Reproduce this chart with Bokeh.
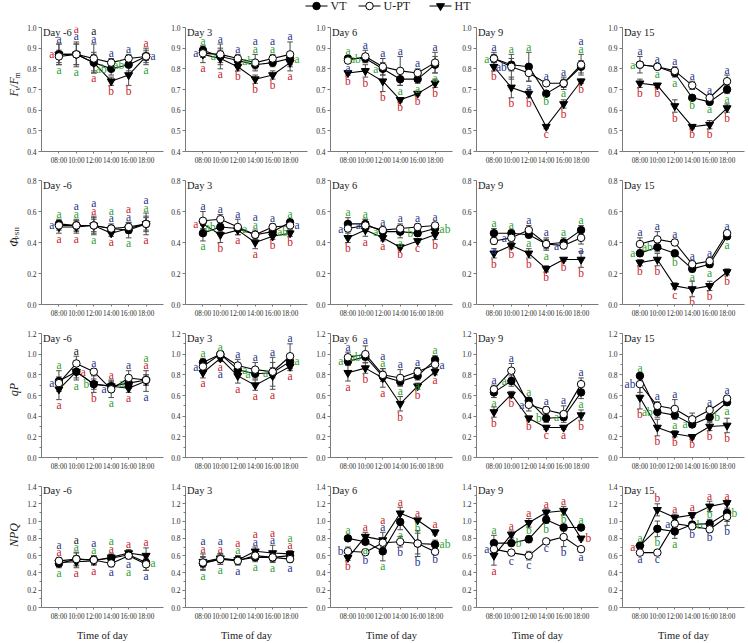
import numpy as np
from bokeh.plotting import figure
from bokeh.layouts import column, row
from bokeh.models import FixedTicker, PrintfTickFormatter, Label, ColumnDataSource
from bokeh.embed import file_html
from bokeh.resources import INLINE
from bokeh.core.properties import value

# ---------------------------------------------------------------- data
TIMES = [8, 10, 12, 14, 16, 18]
TIME_LABELS = ["08:00", "10:00", "12:00", "14:00", "16:00", "18:00"]
DAYS = ["Day -6", "Day 3", "Day 6", "Day 9", "Day 15"]
SERIES = ["VT", "U-PT", "HT"]

# Fv/Fm (one list per day)
FVFM_VT = [[0.87, 0.87, 0.83, 0.80, 0.82, 0.86],
           [0.89, 0.86, 0.84, 0.82, 0.83, 0.85],
           [0.85, 0.85, 0.80, 0.75, 0.75, 0.82],
           [0.85, 0.82, 0.81, 0.68, 0.73, 0.81],
           [0.82, 0.81, 0.78, 0.66, 0.64, 0.70]]
FVFM_UPT = [[0.86, 0.87, 0.85, 0.83, 0.85, 0.86],
            [0.875, 0.87, 0.85, 0.83, 0.85, 0.87],
            [0.84, 0.86, 0.81, 0.79, 0.78, 0.83],
            [0.85, 0.81, 0.78, 0.73, 0.73, 0.82],
            [0.82, 0.81, 0.79, 0.72, 0.66, 0.74]]
FVFM_HT = [[0.87, 0.87, 0.83, 0.74, 0.77, 0.86],
           [0.87, 0.85, 0.81, 0.75, 0.77, 0.83],
           [0.78, 0.79, 0.74, 0.65, 0.68, 0.73],
           [0.81, 0.71, 0.68, 0.52, 0.63, 0.74],
           [0.73, 0.72, 0.62, 0.52, 0.53, 0.61]]
FVFM_VT_SE = [[0.05, 0.05, 0.04, 0.03, 0.03, 0.02],
              [0.02, 0.03, 0.02, 0.02, 0.02, 0.03],
              [0.01, 0.02, 0.03, 0.03, 0.02, 0.04],
              [0.02, 0.03, 0.07, 0.01, 0.02, 0.03],
              [0.01, 0.01, 0.02, 0.01, 0.01, 0.02]]
FVFM_UPT_SE = [[0.03, 0.06, 0.07, 0.02, 0.02, 0.03],
               [0.02, 0.05, 0.02, 0.04, 0.02, 0.06],
               [0.01, 0.03, 0.04, 0.07, 0.02, 0.05],
               [0.03, 0.06, 0.04, 0.01, 0.03, 0.05],
               [0.04, 0.01, 0.02, 0.02, 0.01, 0.03]]
FVFM_HT_SE = [[0.05, 0.05, 0.05, 0.02, 0.05, 0.04],
              [0.04, 0.05, 0.02, 0.02, 0.02, 0.04],
              [0.01, 0.03, 0.05, 0.01, 0.01, 0.02],
              [0.02, 0.05, 0.02, 0.01, 0.02, 0.01],
              [0.02, 0.01, 0.03, 0.01, 0.02, 0.02]]

# Phi PSII
PSII_VT = [[0.52, 0.51, 0.51, 0.49, 0.48, 0.52],
           [0.46, 0.50, 0.49, 0.45, 0.47, 0.53],
           [0.52, 0.52, 0.47, 0.47, 0.46, 0.49],
           [0.46, 0.46, 0.45, 0.39, 0.40, 0.48],
           [0.33, 0.37, 0.33, 0.23, 0.26, 0.44]]
PSII_UPT = [[0.51, 0.51, 0.51, 0.49, 0.50, 0.52],
            [0.54, 0.55, 0.50, 0.45, 0.50, 0.51],
            [0.49, 0.51, 0.48, 0.49, 0.50, 0.51],
            [0.41, 0.43, 0.48, 0.39, 0.38, 0.43],
            [0.39, 0.42, 0.40, 0.26, 0.28, 0.46]]
PSII_HT = [[0.50, 0.50, 0.51, 0.46, 0.49, 0.52],
           [0.52, 0.45, 0.48, 0.40, 0.44, 0.46],
           [0.43, 0.48, 0.43, 0.37, 0.41, 0.45],
           [0.33, 0.38, 0.33, 0.23, 0.29, 0.29],
           [0.27, 0.29, 0.12, 0.10, 0.12, 0.21]]
PSII_VT_SE = [[0.03, 0.03, 0.04, 0.02, 0.05, 0.04],
              [0.05, 0.03, 0.02, 0.02, 0.02, 0.02],
              [0.04, 0.03, 0.02, 0.04, 0.02, 0.02],
              [0.03, 0.02, 0.02, 0.04, 0.03, 0.03],
              [0.02, 0.03, 0.02, 0.02, 0.02, 0.02]]
PSII_UPT_SE = [[0.03, 0.04, 0.05, 0.03, 0.03, 0.07],
               [0.06, 0.03, 0.05, 0.03, 0.02, 0.03],
               [0.02, 0.04, 0.02, 0.03, 0.02, 0.02],
               [0.02, 0.02, 0.03, 0.03, 0.02, 0.04],
               [0.04, 0.05, 0.02, 0.02, 0.02, 0.01]]
PSII_HT_SE = [[0.04, 0.04, 0.06, 0.02, 0.03, 0.05],
              [0.03, 0.05, 0.03, 0.04, 0.02, 0.02],
              [0.03, 0.04, 0.02, 0.01, 0.01, 0.03],
              [0.03, 0.02, 0.03, 0.02, 0.01, 0.05],
              [0.02, 0.04, 0.02, 0.05, 0.03, 0.02]]

# qP
QP_VT = [[0.74, 0.83, 0.71, 0.69, 0.72, 0.75],
         [0.92, 1.00, 0.85, 0.81, 0.82, 0.93],
         [0.93, 0.975, 0.785, 0.735, 0.79, 0.945],
         [0.63, 0.74, 0.55, 0.38, 0.39, 0.63],
         [0.79, 0.44, 0.41, 0.32, 0.39, 0.535]]
QP_UPT = [[0.72, 0.91, 0.83, 0.66, 0.77, 0.75],
          [0.88, 1.00, 0.89, 0.85, 0.83, 0.98],
          [0.97, 1.00, 0.80, 0.77, 0.83, 0.90],
          [0.66, 0.84, 0.51, 0.46, 0.42, 0.71],
          [0.71, 0.50, 0.47, 0.37, 0.46, 0.57]]
QP_HT = [[0.66, 0.83, 0.71, 0.69, 0.67, 0.74],
         [0.82, 0.96, 0.79, 0.70, 0.79, 0.88],
         [0.82, 0.865, 0.77, 0.52, 0.69, 0.83],
         [0.44, 0.61, 0.38, 0.29, 0.29, 0.41],
         [0.58, 0.29, 0.23, 0.20, 0.30, 0.31]]
QP_VT_SE = [[0.10, 0.08, 0.05, 0.04, 0.05, 0.05],
            [0.04, 0.02, 0.05, 0.05, 0.05, 0.03],
            [0.04, 0.03, 0.05, 0.04, 0.04, 0.04],
            [0.05, 0.05, 0.03, 0.04, 0.03, 0.06],
            [0.02, 0.05, 0.04, 0.03, 0.04, 0.03]]
QP_UPT_SE = [[0.06, 0.07, 0.03, 0.08, 0.07, 0.05],
             [0.04, 0.02, 0.06, 0.07, 0.14, 0.12],
             [0.05, 0.08, 0.06, 0.08, 0.04, 0.04],
             [0.04, 0.07, 0.06, 0.03, 0.08, 0.06],
             [0.08, 0.04, 0.09, 0.06, 0.02, 0.03]]
QP_HT_SE = [[0.10, 0.06, 0.08, 0.06, 0.04, 0.10],
            [0.05, 0.03, 0.07, 0.05, 0.13, 0.04],
            [0.08, 0.05, 0.09, 0.07, 0.03, 0.03],
            [0.05, 0.03, 0.02, 0.02, 0.02, 0.05],
            [0.11, 0.08, 0.03, 0.02, 0.04, 0.07]]

# NPQ
NPQ_VT = [[0.51, 0.56, 0.55, 0.57, 0.61, 0.52],
          [0.51, 0.56, 0.55, 0.58, 0.58, 0.60],
          [0.80, 0.76, 0.65, 0.99, 0.74, 0.73],
          [0.745, 0.745, 0.79, 1.015, 0.925, 0.925],
          [0.715, 0.91, 0.88, 0.96, 0.97, 1.095]]
NPQ_UPT = [[0.54, 0.56, 0.55, 0.51, 0.60, 0.50],
           [0.52, 0.56, 0.54, 0.60, 0.58, 0.56],
           [0.65, 0.64, 0.75, 0.76, 0.74, 0.645],
           [0.675, 0.635, 0.60, 0.765, 0.815, 0.675],
           [0.635, 0.635, 0.97, 0.94, 0.905, 1.05]]
NPQ_HT = [[0.52, 0.53, 0.54, 0.58, 0.63, 0.60],
          [0.53, 0.57, 0.55, 0.65, 0.63, 0.62],
          [0.575, 0.82, 0.78, 1.09, 1.01, 0.87],
          [0.60, 0.845, 0.98, 1.10, 1.12, 0.80],
          [0.695, 1.13, 1.04, 1.07, 1.17, 1.21]]
NPQ_VT_SE = [[0.05, 0.07, 0.05, 0.04, 0.04, 0.09],
             [0.08, 0.06, 0.05, 0.05, 0.05, 0.04],
             [0.03, 0.03, 0.11, 0.09, 0.12, 0.05],
             [0.09, 0.03, 0.04, 0.04, 0.04, 0.02],
             [0.03, 0.09, 0.08, 0.03, 0.05, 0.10]]
NPQ_UPT_SE = [[0.04, 0.08, 0.05, 0.04, 0.04, 0.07],
              [0.06, 0.06, 0.05, 0.05, 0.06, 0.04],
              [0.05, 0.03, 0.05, 0.06, 0.15, 0.02],
              [0.04, 0.03, 0.05, 0.02, 0.11, 0.03],
              [0.01, 0.01, 0.04, 0.03, 0.03, 0.10]]
NPQ_HT_SE = [[0.05, 0.07, 0.05, 0.04, 0.04, 0.09],
             [0.09, 0.05, 0.05, 0.05, 0.09, 0.04],
             [0.03, 0.05, 0.09, 0.07, 0.02, 0.03],
             [0.11, 0.04, 0.05, 0.04, 0.05, 0.02],
             [0.03, 0.07, 0.04, 0.03, 0.06, 0.02]]

# Significance letters: (time index, treatment, placement, letter).
# Placement: T = stacked above all bars, B = stacked below all bars,
# L / R = beside the treatment's point, u / d = just above / below its own bar.
# Treatment "K" marks a letter printed in black.
FVFM_LETTERS = [
    [(0, "UPT", "T", "a"), (0, "HT", "L", "a"), (0, "VT", "B", "a"),
     (1, "UPT", "T", "a"), (1, "HT", "T", "a"), (1, "VT", "B", "a"),
     (2, "UPT", "T", "a"), (2, "K", "T", "a"), (2, "HT", "B", "a"),
     (3, "UPT", "T", "a"), (3, "VT", "L", "ab"), (3, "HT", "B", "b"),
     (4, "UPT", "T", "a"), (4, "VT", "L", "ab"), (4, "HT", "B", "b"),
     (5, "HT", "T", "a"), (5, "UPT", "R", "a"), (5, "VT", "B", "a")],
    [(0, "VT", "T", "a"), (0, "UPT", "L", "a"), (0, "HT", "B", "a"),
     (1, "UPT", "T", "a"), (1, "VT", "L", "a"), (1, "HT", "B", "a"),
     (2, "UPT", "T", "a"), (2, "VT", "R", "ab"), (2, "HT", "B", "b"),
     (3, "VT", "T", "a"), (3, "UPT", "T", "a"), (3, "HT", "B", "b"),
     (4, "VT", "T", "a"), (4, "UPT", "T", "a"), (4, "HT", "B", "b"),
     (5, "UPT", "T", "a"), (5, "VT", "R", "a"), (5, "HT", "B", "a")],
    [(0, "VT", "T", "a"), (0, "UPT", "d", "a"), (0, "HT", "B", "b"),
     (1, "UPT", "T", "a"), (1, "VT", "L", "ab"), (1, "HT", "B", "b"),
     (2, "UPT", "T", "a"), (2, "VT", "L", "a"), (2, "HT", "B", "b"),
     (3, "UPT", "T", "a"), (3, "VT", "d", "a"), (3, "HT", "B", "b"),
     (4, "UPT", "T", "a"), (4, "VT", "d", "a"), (4, "HT", "B", "b"),
     (5, "UPT", "T", "a"), (5, "VT", "d", "a"), (5, "HT", "B", "b")],
    [(0, "UPT", "T", "a"), (0, "VT", "L", "a"), (0, "HT", "B", "b"),
     (1, "VT", "T", "a"), (1, "UPT", "L", "ab"), (1, "HT", "B", "b"),
     (2, "VT", "T", "a"), (2, "UPT", "d", "a"), (2, "HT", "B", "b"),
     (3, "UPT", "T", "a"), (3, "VT", "d", "b"), (3, "HT", "B", "c"),
     (4, "UPT", "T", "a"), (4, "VT", "d", "a"), (4, "HT", "B", "b"),
     (5, "VT", "T", "a"), (5, "UPT", "T", "a"), (5, "HT", "d", "b")],
    [(0, "UPT", "T", "a"), (0, "VT", "L", "a"), (0, "HT", "B", "b"),
     (1, "UPT", "T", "a"), (1, "VT", "d", "a"), (1, "HT", "B", "b"),
     (2, "UPT", "T", "a"), (2, "VT", "d", "a"), (2, "HT", "B", "b"),
     (3, "UPT", "T", "a"), (3, "VT", "d", "b"), (3, "HT", "B", "b"),
     (4, "UPT", "T", "a"), (4, "VT", "d", "a"), (4, "HT", "B", "b"),
     (5, "UPT", "T", "a"), (5, "VT", "d", "a"), (5, "HT", "B", "b")],
]
PSII_LETTERS = [
    [(0, "VT", "T", "a"), (0, "UPT", "L", "a"), (0, "HT", "B", "a"),
     (1, "VT", "T", "a"), (1, "UPT", "T", "a"), (1, "HT", "B", "a"),
     (2, "HT", "T", "a"), (2, "UPT", "T", "a"), (2, "VT", "B", "a"),
     (3, "UPT", "T", "a"), (3, "VT", "T", "a"), (3, "HT", "B", "a"),
     (4, "UPT", "T", "a"), (4, "HT", "T", "a"), (4, "VT", "B", "a"),
     (5, "VT", "T", "a"), (5, "UPT", "T", "a"), (5, "HT", "B", "a")],
    [(0, "UPT", "T", "a"), (0, "HT", "L", "a"), (0, "VT", "B", "a"),
     (1, "UPT", "T", "a"), (1, "VT", "L", "ab"), (1, "HT", "B", "b"),
     (2, "UPT", "T", "a"), (2, "VT", "R", "a"), (2, "HT", "B", "a"),
     (3, "VT", "T", "a"), (3, "UPT", "T", "a"), (3, "HT", "B", "a"),
     (4, "UPT", "T", "a"), (4, "VT", "R", "ab"), (4, "HT", "B", "b"),
     (5, "VT", "T", "a"), (5, "UPT", "R", "a"), (5, "HT", "B", "b")],
    [(0, "VT", "T", "a"), (0, "UPT", "L", "a"), (0, "HT", "B", "b"),
     (1, "VT", "T", "a"), (1, "UPT", "L", "a"), (1, "HT", "B", "a"),
     (2, "UPT", "T", "a"), (2, "VT", "L", "a"), (2, "HT", "B", "a"),
     (3, "UPT", "T", "a"), (3, "VT", "d", "a"), (3, "HT", "B", "b"),
     (4, "UPT", "T", "a"), (4, "VT", "L", "b"), (4, "HT", "B", "c"),
     (5, "UPT", "T", "a"), (5, "VT", "R", "ab"), (5, "HT", "B", "b")],
    [(0, "VT", "T", "a"), (0, "UPT", "d", "a"), (0, "HT", "B", "b"),
     (1, "VT", "T", "a"), (1, "UPT", "L", "a"), (1, "HT", "B", "b"),
     (2, "UPT", "T", "a"), (2, "VT", "d", "a"), (2, "HT", "B", "b"),
     (3, "UPT", "T", "a"), (3, "VT", "d", "a"), (3, "HT", "B", "b"),
     (4, "VT", "T", "a"), (4, "UPT", "L", "a"), (4, "HT", "B", "b"),
     (5, "VT", "T", "a"), (5, "UPT", "d", "a"), (5, "HT", "B", "b")],
    [(0, "UPT", "T", "a"), (0, "VT", "L", "a"), (0, "HT", "B", "b"),
     (1, "UPT", "T", "a"), (1, "VT", "L", "ab"), (1, "HT", "B", "b"),
     (2, "UPT", "T", "a"), (2, "VT", "d", "b"), (2, "HT", "B", "c"),
     (3, "UPT", "T", "a"), (3, "VT", "d", "a"), (3, "HT", "B", "b"),
     (4, "UPT", "T", "a"), (4, "VT", "d", "a"), (4, "HT", "B", "b"),
     (5, "UPT", "T", "a"), (5, "VT", "d", "a"), (5, "HT", "B", "b")],
]
QP_LETTERS = [
    [(0, "VT", "T", "a"), (0, "UPT", "L", "a"), (0, "HT", "B", "a"),
     (1, "K", "T", "a"), (1, "HT", "R", "a"), (1, "VT", "B", "a"),
     (2, "UPT", "T", "a"), (2, "VT", "L", "b"), (2, "HT", "B", "b"),
     (3, "HT", "T", "a"), (3, "UPT", "L", "a"), (3, "VT", "B", "a"),
     (4, "UPT", "T", "a"), (4, "VT", "L", "a"), (4, "HT", "B", "a"),
     (5, "HT", "T", "a"), (5, "VT", "T", "a"), (5, "UPT", "B", "a")],
    [(0, "VT", "T", "a"), (0, "UPT", "L", "a"), (0, "HT", "B", "a"),
     (1, "VT", "T", "a"), (1, "HT", "B", "a"), (1, "UPT", "B", "a"),
     (2, "UPT", "T", "a"), (2, "VT", "R", "a"), (2, "HT", "B", "a"),
     (3, "UPT", "T", "a"), (3, "VT", "L", "a"), (3, "HT", "B", "a"),
     (4, "UPT", "T", "a"), (4, "VT", "L", "a"), (4, "HT", "B", "a"),
     (5, "UPT", "T", "a"), (5, "VT", "R", "a"), (5, "HT", "B", "a")],
    [(0, "UPT", "T", "a"), (0, "VT", "L", "a"), (0, "HT", "B", "a"),
     (1, "UPT", "T", "a"), (1, "VT", "L", "ab"), (1, "HT", "B", "b"),
     (2, "VT", "T", "a"), (2, "UPT", "T", "a"), (2, "HT", "B", "a"),
     (3, "UPT", "T", "a"), (3, "VT", "d", "a"), (3, "HT", "B", "b"),
     (4, "UPT", "T", "a"), (4, "VT", "d", "a"), (4, "HT", "B", "b"),
     (5, "VT", "T", "a"), (5, "UPT", "R", "a"), (5, "HT", "B", "a")],
    [(0, "UPT", "T", "a"), (0, "VT", "d", "a"), (0, "HT", "B", "b"),
     (1, "UPT", "T", "a"), (1, "VT", "L", "a"), (1, "HT", "B", "b"),
     (2, "VT", "T", "a"), (2, "UPT", "L", "a"), (2, "HT", "B", "b"),
     (3, "UPT", "T", "a"), (3, "VT", "L", "b"), (3, "HT", "B", "c"),
     (4, "UPT", "T", "a"), (4, "VT", "L", "a"), (4, "HT", "B", "a"),
     (5, "UPT", "T", "a"), (5, "VT", "d", "a"), (5, "HT", "B", "b")],
    [(0, "VT", "T", "a"), (0, "UPT", "L", "ab"), (0, "HT", "B", "b"),
     (1, "UPT", "T", "a"), (1, "VT", "L", "ab"), (1, "HT", "B", "b"),
     (2, "UPT", "T", "a"), (2, "VT", "d", "a"), (2, "HT", "B", "b"),
     (3, "VT", "L", "a"), (3, "HT", "B", "b"),
     (4, "UPT", "T", "a"), (4, "VT", "R", "b"), (4, "HT", "B", "b"),
     (5, "UPT", "T", "a"), (5, "VT", "d", "a"), (5, "HT", "B", "b")],
]
NPQ_LETTERS = [
    [(0, "HT", "T", "a"), (0, "UPT", "T", "a"), (0, "VT", "B", "a"),
     (1, "VT", "T", "a"), (1, "K", "T", "a"), (1, "HT", "B", "a"),
     (2, "VT", "T", "a"), (2, "UPT", "T", "a"), (2, "HT", "B", "a"),
     (3, "HT", "T", "a"), (3, "VT", "T", "a"), (3, "UPT", "B", "a"),
     (4, "HT", "T", "a"), (4, "UPT", "B", "a"), (4, "VT", "B", "a"),
     (5, "HT", "T", "a"), (5, "VT", "R", "a"), (5, "UPT", "B", "a")],
    [(0, "HT", "T", "a"), (0, "UPT", "T", "a"), (0, "VT", "B", "a"),
     (1, "HT", "T", "a"), (1, "UPT", "T", "a"), (1, "VT", "B", "a"),
     (2, "VT", "T", "a"), (2, "HT", "T", "a"), (2, "UPT", "B", "a"),
     (3, "UPT", "T", "a"), (3, "HT", "T", "a"), (3, "VT", "B", "a"),
     (4, "UPT", "T", "a"), (4, "HT", "T", "a"), (4, "VT", "B", "a"),
     (5, "HT", "T", "a"), (5, "VT", "T", "a"), (5, "UPT", "B", "a")],
    [(0, "VT", "T", "a"), (0, "UPT", "L", "b"), (0, "HT", "B", "b"),
     (1, "HT", "T", "a"), (1, "VT", "d", "a"), (1, "UPT", "B", "b"),
     (2, "UPT", "T", "a"), (2, "HT", "T", "a"), (2, "VT", "B", "a"),
     (3, "HT", "T", "a"), (3, "VT", "d", "a"), (3, "UPT", "B", "b"),
     (4, "HT", "T", "a"), (4, "VT", "u", "b"), (4, "UPT", "B", "b"),
     (5, "HT", "T", "a"), (5, "VT", "R", "ab"), (5, "UPT", "B", "b")],
    [(0, "VT", "T", "a"), (0, "UPT", "L", "a"), (0, "HT", "B", "a"),
     (1, "HT", "T", "a"), (1, "VT", "R", "b"), (1, "UPT", "B", "c"),
     (2, "HT", "T", "a"), (2, "VT", "u", "b"), (2, "UPT", "B", "c"),
     (3, "HT", "T", "a"), (3, "VT", "d", "b"), (3, "UPT", "B", "c"),
     (4, "HT", "T", "a"), (4, "VT", "u", "b"), (4, "UPT", "B", "b"),
     (5, "VT", "T", "a"), (5, "HT", "R", "b"), (5, "UPT", "B", "a")],
    [(0, "VT", "T", "a"), (0, "HT", "L", "a"), (0, "UPT", "B", "a"),
     (1, "HT", "T", "b"), (1, "VT", "d", "b"), (1, "UPT", "B", "c"),
     (2, "HT", "T", "a"), (2, "UPT", "L", "a"), (2, "VT", "B", "a"),
     (3, "HT", "T", "a"), (3, "VT", "R", "b"), (3, "UPT", "B", "b"),
     (4, "HT", "T", "a"), (4, "VT", "u", "b"), (4, "UPT", "B", "b"),
     (5, "HT", "T", "a"), (5, "VT", "R", "b"), (5, "UPT", "B", "b")],
]

# ---------------------------------------------------------------- styling
FONT = "Liberation Serif"
AXIS_GREY = "#7a7a7a"
TEXT_DARK = "#1a1a1a"
BAR_GREY = "#4d4d4d"
LETTER_COLORS = {"VT": "#2f9e2f", "UPT": "#2a3588", "HT": "#c8232a", "K": "#222222"}

FRAME_W, FRAME_H = 122, 124
LABEL_W = 22                       # strip holding the rotated row titles
COL_W = [165 - LABEL_W, 145, 146, 146, 146]
COL_L = [41 - LABEL_W, 20, 20, 20, 20]
ROW_H = [153, 153, 153, 166]
TOP = 9
X_LO, X_HI = 6, 20

ROWS = [
    dict(lo=0.4, hi=1.0, ticks=[0.4, 0.5, 0.6, 0.7, 0.8, 0.9, 1.0], minor=[],
         vt=FVFM_VT, upt=FVFM_UPT, ht=FVFM_HT,
         vt_se=FVFM_VT_SE, upt_se=FVFM_UPT_SE, ht_se=FVFM_HT_SE, letters=FVFM_LETTERS,
         ylabel=[("F", 12, "italic", 0, 7.3), ("v", 8, "italic", 1, 3.8), ("/", 12, "normal", 0, 3.6),
                 ("F", 12, "italic", 0, 7.3), ("m", 8, "normal", 1, 6.0)]),
    dict(lo=0.0, hi=0.8, ticks=[0.0, 0.2, 0.4, 0.6, 0.8], minor=[],
         vt=PSII_VT, upt=PSII_UPT, ht=PSII_HT,
         vt_se=PSII_VT_SE, upt_se=PSII_UPT_SE, ht_se=PSII_HT_SE, letters=PSII_LETTERS,
         ylabel=[("\u03a6", 12, "italic", 0, 9.2), ("PSII", 7, "normal", 1, 12.5)]),
    dict(lo=0.0, hi=1.2, ticks=[0.0, 0.2, 0.4, 0.6, 0.8, 1.0, 1.2],
         minor=[0.1, 0.3, 0.5, 0.7, 0.9, 1.1],
         vt=QP_VT, upt=QP_UPT, ht=QP_HT,
         vt_se=QP_VT_SE, upt_se=QP_UPT_SE, ht_se=QP_HT_SE, letters=QP_LETTERS,
         ylabel=[("qP", 12, "italic", 0, 13.0)]),
    dict(lo=0.0, hi=1.4, ticks=[0.0, 0.2, 0.4, 0.6, 0.8, 1.0, 1.2, 1.4],
         minor=[0.1, 0.3, 0.5, 0.7, 0.9, 1.1, 1.3],
         vt=NPQ_VT, upt=NPQ_UPT, ht=NPQ_HT,
         vt_se=NPQ_VT_SE, upt_se=NPQ_UPT_SE, ht_se=NPQ_HT_SE, letters=NPQ_LETTERS,
         ylabel=[("NPQ", 12, "italic", 0, 24.0)]),
]


def make_row_title(r):
    """Narrow strip with the rotated quantity name (subscripts set lower)."""
    h = ROW_H[r]
    f = figure(width=LABEL_W, height=h, x_range=(0, LABEL_W), y_range=(0, h),
               output_backend="svg", toolbar_location=None,
               x_axis_location=None, y_axis_location=None, min_border=0)
    f.outline_line_color = None
    f.grid.visible = False
    pieces = ROWS[r]["ylabel"]
    total = sum(pc[4] for pc in pieces)
    mid = (h - TOP - FRAME_H) + FRAME_H / 2
    cursor = mid - total / 2
    for txt, size, style, sub, adv in pieces:
        f.text(x=[13 + 3.5 * sub], y=[cursor], text=[txt], angle=np.pi / 2,
               text_font=value(FONT), text_font_size=f"{size}px",
               text_font_style=style, text_color=TEXT_DARK,
               text_align="left", text_baseline="middle")
        cursor += adv
    return f


def make_panel(r, c):
    spec = ROWS[r]
    lo, hi = spec["lo"], spec["hi"]
    w, h = COL_W[c], ROW_H[r]
    px = (X_HI - X_LO) / FRAME_W      # data units per pixel, x
    py = (hi - lo) / FRAME_H          # data units per pixel, y

    p = figure(width=w, height=h, x_range=(X_LO, X_HI), y_range=(lo, hi),
               output_backend="svg", toolbar_location=None,
               min_border_left=COL_L[c], min_border_right=w - COL_L[c] - FRAME_W,
               min_border_top=TOP, min_border_bottom=h - TOP - FRAME_H)
    p.outline_line_color = None
    p.grid.visible = False

    # axes
    p.xaxis.ticker = FixedTicker(ticks=TIMES)
    p.xaxis.major_label_overrides = {t: lab for t, lab in zip(TIMES, TIME_LABELS)}
    p.yaxis.ticker = FixedTicker(ticks=spec["ticks"], minor_ticks=spec["minor"])
    p.yaxis.formatter = PrintfTickFormatter(format="%.1f")
    for ax in (p.xaxis[0], p.yaxis[0]):
        ax.axis_line_color = AXIS_GREY
        ax.major_tick_line_color = AXIS_GREY
        ax.minor_tick_line_color = AXIS_GREY
        ax.major_tick_in = 0
        ax.minor_tick_in = 0
        ax.major_label_text_font = FONT
        ax.major_label_text_color = "#2a2a2a"
    p.xaxis.major_tick_out = 2
    p.xaxis.minor_tick_out = 0
    p.xaxis.major_label_text_font_size = "7.2px"
    p.xaxis.major_label_standoff = 3
    p.yaxis.major_tick_out = 3
    p.yaxis.minor_tick_out = 2
    p.yaxis.major_label_text_font_size = "7.5px"
    p.yaxis.major_label_standoff = 2
    if r == 3:
        p.xaxis.axis_label = "Time of day"
        p.xaxis.axis_label_text_font = FONT
        p.xaxis.axis_label_text_font_style = "normal"
        p.xaxis.axis_label_text_font_size = "10.5px"
        p.xaxis.axis_label_text_color = TEXT_DARK
        p.xaxis.axis_label_standoff = 6

    series = {
        "VT": (spec["vt"][c], spec["vt_se"][c]),
        "UPT": (spec["upt"][c], spec["upt_se"][c]),
        "HT": (spec["ht"][c], spec["ht_se"][c]),
    }

    # error bars
    x0, y0, x1, y1 = [], [], [], []
    cap = 2.8 * px
    for key in ("HT", "VT", "UPT"):
        vals, errs = series[key]
        for t, v, e in zip(TIMES, vals, errs):
            x0 += [t, t - cap, t - cap]
            x1 += [t, t + cap, t + cap]
            y0 += [v - e, v + e, v - e]
            y1 += [v + e, v + e, v - e]
    p.segment(x0=x0, y0=y0, x1=x1, y1=y1, line_color=BAR_GREY, line_width=1)

    # lines and markers
    for key in ("HT", "VT", "UPT"):
        p.line(TIMES, series[key][0], line_color="black", line_width=1.1)
    p.scatter(TIMES, series["HT"][0], marker="inverted_triangle", size=8,
              fill_color="black", line_color="black")
    p.scatter(TIMES, series["VT"][0], marker="circle", size=7.5,
              fill_color="black", line_color="black")
    p.scatter(TIMES, series["UPT"][0], marker="circle", size=7.5,
              fill_color="white", line_color="black", line_width=1)

    # significance letters
    n = len(TIMES)
    top = [max(series[k][0][i] + series[k][1][i] for k in series) for i in range(n)]
    bot = [min(series[k][0][i] - series[k][1][i] for k in series) for i in range(n)]
    nt = [0] * n
    nb = [0] * n
    groups = {"center": dict(x=[], y=[], t=[], col=[]),
              "right": dict(x=[], y=[], t=[], col=[]),
              "left": dict(x=[], y=[], t=[], col=[])}
    for i, key, side, txt in spec["letters"][c]:
        x = TIMES[i]
        col = LETTER_COLORS[key]
        align = "center"
        if side == "T":
            y = top[i] + (5.5 + 7.5 * nt[i]) * py
            nt[i] += 1
        elif side == "B":
            y = bot[i] - (5.5 + 7.5 * nb[i]) * py
            nb[i] += 1
        elif side == "L":
            y = series[key][0][i]
            x = x - 4.5 * px
            align = "right"
        elif side == "R":
            y = series[key][0][i]
            x = x + 4.5 * px
            align = "left"
        elif side == "u":
            y = series[key][0][i] + series[key][1][i] + 5.5 * py
        else:
            y = series[key][0][i] - series[key][1][i] - 5.5 * py
        g = groups[align]
        g["x"].append(x)
        g["y"].append(y)
        g["t"].append(txt)
        g["col"].append(col)
    for align, g in groups.items():
        if not g["x"]:
            continue
        p.text(x="x", y="y", text="t", text_color="col", source=ColumnDataSource(g),
               text_align=align, text_baseline="middle",
               text_font=value(FONT), text_font_size="11.5px")

    # panel title
    p.add_layout(Label(x=X_LO + 1.5 * px, y=hi - 4.5 * py, text=DAYS[c],
                       text_font=FONT, text_font_size="10.5px", text_color=TEXT_DARK,
                       text_align="left", text_baseline="alphabetic"))
    return p


# ---------------------------------------------------------------- legend strip
leg = figure(width=748, height=18, x_range=(0, 748), y_range=(0, 18),
             output_backend="svg", toolbar_location=None,
             x_axis_location=None, y_axis_location=None, min_border=0)
leg.outline_line_color = None
leg.grid.visible = False
LEG_Y = 12.5
leg_mx = [316, 369, 440]
leg.segment(x0=[m - 11 for m in leg_mx], y0=[LEG_Y] * 3, x1=[m + 11 for m in leg_mx],
            y1=[LEG_Y] * 3, line_color="black", line_width=1)
leg.scatter([leg_mx[0]], [LEG_Y], marker="circle", size=7.5, fill_color="black", line_color="black")
leg.scatter([leg_mx[1]], [LEG_Y], marker="circle", size=7.5, fill_color="white", line_color="black")
leg.scatter([leg_mx[2]], [LEG_Y], marker="inverted_triangle", size=8,
            fill_color="black", line_color="black")
leg.text(x=[m + 14 for m in leg_mx], y=[LEG_Y] * 3, text=SERIES,
         text_font=value(FONT), text_font_size="12px", text_color=TEXT_DARK,
         text_align="left", text_baseline="middle")

rows = [row(make_row_title(r), *[make_panel(r, c) for c in range(5)], spacing=0)
        for r in range(4)]
layout = column(leg, *rows, spacing=0)

open("out.html", "w").write(file_html(layout, INLINE))
